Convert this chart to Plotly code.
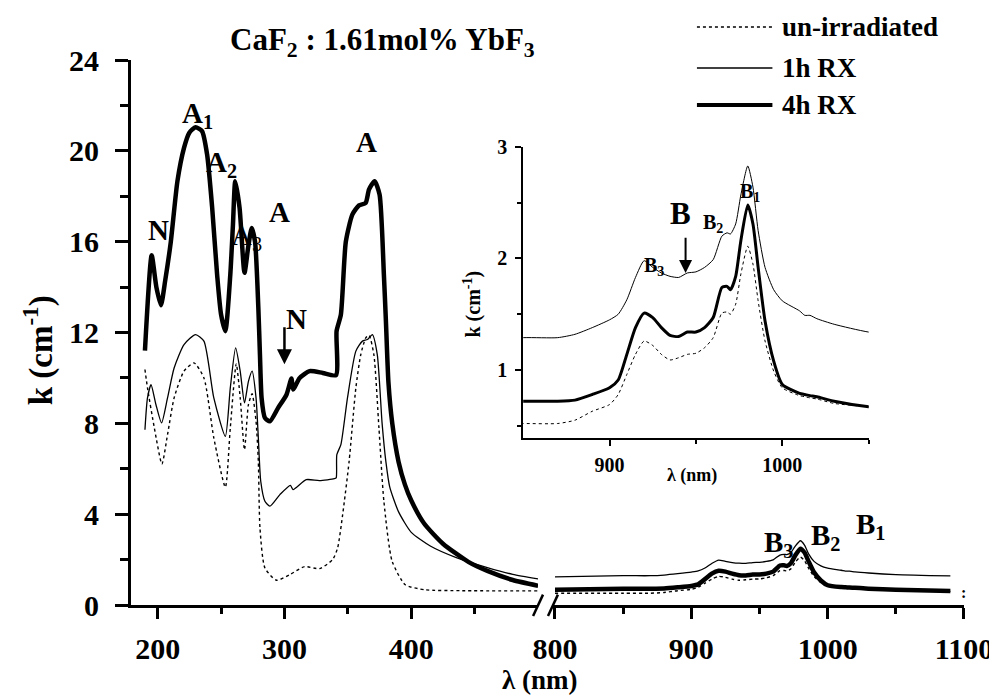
import plotly.graph_objects as go

# ---------------- data ----------------
# UV / visible part (left segment of the broken axis)
uv_wl_un = [190, 192, 197.4, 203.4, 207.8, 213, 220.8, 228.7, 236.5, 244.3, 253.4, 257.3, 262, 265.1,
            268.5, 271.6, 274.5, 277.6, 279.4, 280.7, 284.6, 293.8, 304.2, 315.9, 327.6, 338, 341.9,
            345.9, 351, 356.3, 360.2, 364.1, 366.7, 370.5, 374.5, 378.4, 384.9, 395.3, 410.9, 440, 500]
uv_k_un = [10.37, 9.56, 7.8, 6.21, 7.5, 9.12, 10.3, 10.66, 10.0, 7.36, 5.19, 7.8, 10.62, 9.12,
           6.84, 8.82, 9.3, 8.09, 6.33, 3.39, 1.63, 1.09, 1.34, 1.69, 1.6, 2.0, 2.51,
           3.98, 6.33, 9.56, 11.03, 11.76, 11.88, 11.03, 7.8, 4.57, 1.93, 0.89, 0.67, 0.63, 0.62]

uv_wl_1h = [190, 192, 194.8, 198.7, 203.1, 207.8, 213, 220.8, 229.9, 236.5, 244.3, 253.4, 257.3, 261.5,
            265.1, 268.5, 271.6, 274.5, 277.6, 279.4, 281.3, 284.6, 288.5, 296.4, 304.7, 306.8, 317.2,
            327.6, 339.3, 340.8, 341.3, 344.5, 349.7, 356.3, 361.5, 365.4, 369.3, 373.2, 377, 380,
            383, 390, 400, 415, 435, 460, 480, 500]
uv_k_1h = [7.72, 9.12, 9.7, 8.82, 8.02, 9.12, 10.44, 11.47, 11.91, 11.62, 9.12, 7.43, 9.56, 11.32,
           10.3, 8.9, 9.85, 10.3, 9.12, 7.36, 5.45, 4.57, 4.35, 4.86, 5.27, 5.08, 5.52,
           5.48, 5.56, 5.6, 6.62, 7.06, 9.12, 11.18, 11.62, 11.69, 11.91, 11.03, 8.0, 6.3,
           5.2, 4.1, 3.2, 2.6, 2.1, 1.65, 1.35, 1.15]

uv_wl_4h = [190, 195.3, 199, 202.6, 206, 210.4, 215.6, 220.8, 225, 229.9, 235, 239, 243, 246.9, 250,
            253.4, 257.3, 259.4, 261.2, 264.6, 268.5, 271.5, 274.2, 276.8, 279.4, 280.7, 282, 284.6,
            288.5, 295, 301.6, 305.5, 306.8, 312, 319.8, 330.2, 340.6, 341.1, 344.5, 348.4, 353.6,
            358.8, 364, 366.7, 371.1, 375, 378.4, 380, 382, 385, 390, 395, 400, 410, 425, 445, 460,
            480, 500]
uv_k_4h = [11.2, 15.4, 14.0, 13.2, 14.3, 16.0, 18.66, 20.13, 20.8, 21.04, 20.87, 19.84, 17.5, 14.55, 12.8,
           12.06, 14.55, 16.75, 18.66, 17.49, 14.63, 15.8, 16.6, 16.0, 13.1, 11.0, 9.1, 8.24,
           8.09, 8.68, 9.26, 9.97, 9.49, 10.0, 10.3, 10.22, 10.12, 12.06, 12.79, 16.0, 17.2,
           17.6, 17.7, 18.3, 18.66, 18.08, 14.55, 12.5, 9.8, 8.0, 6.3, 5.3, 4.6, 3.6, 2.7, 1.9, 1.5,
           1.1, 0.85]

# Near-infrared part (right segment and inset)
nir_wl = [800, 850, 870, 880, 890, 900, 905, 910, 915, 920, 925, 930, 935, 940, 945, 950, 955, 960,
          965, 968, 970, 973, 976, 980, 983, 986, 990, 995, 1000, 1010, 1013, 1016, 1020, 1030, 1050, 1090]
nir_k_un = [0.52, 0.52, 0.52, 0.55, 0.63, 0.69, 0.78, 0.96, 1.14, 1.26, 1.22, 1.14, 1.09, 1.11, 1.14, 1.15,
            1.20, 1.29, 1.51, 1.52, 1.50, 1.59, 1.86, 2.11, 1.95, 1.62, 1.26, 0.99, 0.84, 0.77, 0.76,
            0.75, 0.74, 0.70, 0.67, 0.60]
nir_k_1h = [1.24, 1.29, 1.29, 1.32, 1.38, 1.45, 1.50, 1.63, 1.83, 1.98, 1.92, 1.87, 1.84, 1.83, 1.87, 1.88,
            1.92, 1.99, 2.20, 2.23, 2.22, 2.31, 2.57, 2.83, 2.64, 2.25, 1.92, 1.72, 1.62, 1.53, 1.49,
            1.49, 1.46, 1.41, 1.34, 1.28]
nir_k_4h = [0.67, 0.72, 0.72, 0.73, 0.78, 0.84, 0.91, 1.14, 1.38, 1.51, 1.47, 1.38, 1.31, 1.30, 1.34, 1.34,
            1.38, 1.47, 1.74, 1.75, 1.72, 1.84, 2.16, 2.48, 2.31, 1.92, 1.44, 1.08, 0.87, 0.79, 0.78,
            0.77, 0.76, 0.72, 0.67, 0.62]

series_names = ["un-irradiated", "1h RX", "4h RX"]

# tick values / labels
uv_ticks = [200, 300, 400]
uv_minor = [250, 350, 450]
nir_ticks = [800, 900, 1000, 1100]
nir_minor = [850, 950, 1050]
k_ticks = [0, 4, 8, 12, 16, 20, 24]
k_minor = [2, 6, 10, 14, 18, 22]
inset_x_ticks = [900, 1000]
inset_x_minor = [950, 1050]
inset_k_ticks = [1, 2, 3]
inset_k_minor = [0.5, 1.5, 2.5]

# ---------------- styling ----------------
FONT = "Liberation Serif"
styles_main = [dict(color="black", width=1.4, dash="dot"),
               dict(color="black", width=1.3),
               dict(color="black", width=4.5)]
styles_inset = [dict(color="black", width=1.0, dash="dot"),
                dict(color="black", width=1.0),
                dict(color="black", width=3.0)]

fig = go.Figure()
uv_sets = [(uv_wl_un, uv_k_un), (uv_wl_1h, uv_k_1h), (uv_wl_4h, uv_k_4h)]
nir_sets = [nir_k_un, nir_k_1h, nir_k_4h]

for (wl, k), st, name in zip(uv_sets, styles_main, series_names):
    fig.add_trace(go.Scatter(x=wl, y=k, mode="lines", line=dict(shape="spline", smoothing=0.6, **st),
                             name=name, xaxis="x", yaxis="y", showlegend=False))
for k, st, name in zip(nir_sets, styles_main, series_names):
    fig.add_trace(go.Scatter(x=nir_wl, y=k, mode="lines", line=dict(shape="spline", smoothing=0.6, **st),
                             name=name, xaxis="x2", yaxis="y", showlegend=False))
for k, st, name in zip(nir_sets, styles_inset, series_names):
    fig.add_trace(go.Scatter(x=nir_wl, y=k, mode="lines", line=dict(shape="spline", smoothing=0.6, **st),
                             name=name, xaxis="x3", yaxis="y3", showlegend=False))

tick_font = dict(family=FONT, size=30, color="black", weight="bold")
inset_tick_font = dict(family=FONT, size=20, color="black", weight="bold")

common_main = dict(showline=True, linecolor="black", linewidth=3, ticks="outside", tickwidth=2.5,
                   tickcolor="black", showgrid=False, zeroline=False, tickfont=tick_font,
                   tickmode="array")

fig.update_layout(
    width=997, height=697,
    margin=dict(l=123, r=35, t=52, b=100),
    paper_bgcolor="white", plot_bgcolor="white",
    showlegend=False,
    xaxis=dict(domain=[0, 0.4887], range=[179, 500], anchor="y", tickvals=uv_ticks, ticklen=11,
               ticklabelstandoff=4,
               minor=dict(tickvals=uv_minor, ticks="outside", ticklen=6, tickwidth=2.5, tickcolor="black"),
               **common_main),
    xaxis2=dict(domain=[0.5054, 1], range=[797.8, 1100], anchor="y", tickvals=nir_ticks, ticklen=11,
                ticklabelstandoff=4,
                minor=dict(tickvals=nir_minor, ticks="outside", ticklen=6, tickwidth=2.5, tickcolor="black"),
                **common_main),
    yaxis=dict(domain=[0, 1], range=[0, 24], anchor="x", tickvals=k_ticks, ticklen=13,
               ticklabelstandoff=10,
               minor=dict(tickvals=k_minor, ticks="outside", ticklen=8, tickwidth=2.5, tickcolor="black"),
               **common_main),
    xaxis3=dict(domain=[0.4708, 0.8856], range=[850, 1050], anchor="y3", showline=True, linecolor="black",
                linewidth=2, ticks="outside", ticklen=6, tickwidth=2, tickcolor="black",
                tickmode="array", tickvals=inset_x_ticks, tickfont=inset_tick_font, ticklabelstandoff=2,
                minor=dict(tickvals=inset_x_minor, ticks="outside", ticklen=4, tickwidth=2, tickcolor="black"),
                showgrid=False, zeroline=False),
    yaxis3=dict(domain=[0.3064, 0.8404], range=[0.39, 3.0], anchor="x3", showline=True, linecolor="black",
                linewidth=2, ticks="outside", ticklen=6, tickwidth=2, tickcolor="black",
                tickmode="array", tickvals=inset_k_ticks, tickfont=inset_tick_font, ticklabelstandoff=4,
                minor=dict(tickvals=inset_k_minor, ticks="outside", ticklen=4, tickwidth=2, tickcolor="black"),
                showgrid=False, zeroline=False),
)

def txt(text, x, y, size, xref="paper", yref="paper", xanchor="center", yanchor="middle", angle=0):
    fig.add_annotation(text=text, x=x, y=y, xref=xref, yref=yref, showarrow=False,
                       xanchor=xanchor, yanchor=yanchor, textangle=angle,
                       font=dict(family=FONT, size=size, color="black"))

# title and axis titles
txt("<b>CaF<sub>2</sub> : 1.61mol% YbF<sub>3</sub></b>", 0.3016, 1.033, 31)
txt("<b>λ (nm)</b>", 0.491, -0.168, 27, yanchor="bottom")
txt("<b>k (cm<sup>-1</sup>)</b>", -0.11, 0.468, 33, angle=-90)
txt("<b>λ (nm)</b>", 0.6734, 0.2367, 18)
txt("<b>k (cm<sup>-1</sup>)</b>", 0.41, 0.5523, 20, angle=-90)

# manual legend (long line samples as in the original)
legend_rows = [(1.0606, styles_main[0]), (0.9853, styles_main[1]), (0.9174, dict(color="black", width=4))]
for (ly, st), name in zip(legend_rows, series_names):
    fig.add_shape(type="line", xref="paper", yref="paper", x0=0.6794, x1=0.7700, y0=ly, y1=ly,
                  line=st)
    txt("<b>" + name + "</b>", 0.7795, ly, 27, xanchor="left")

# peak labels, main UV segment
txt("<b>N</b>", 201, 16.5, 29, "x", "y")
txt("<b>A<sub>1</sub></b>", 218, 21.6, 29, "x", "y", xanchor="left")
txt("<b>A<sub>2</sub></b>", 236.5, 19.4, 29, "x", "y", xanchor="left")
txt("A<sub>3</sub>", 256, 16.2, 29, "x", "y", xanchor="left")
txt("<b>A</b>", 296, 17.3, 29, "x", "y")
txt("<b>A</b>", 364.7, 20.4, 29, "x", "y")
txt("<b>N</b>", 309.4, 12.6, 29, "x", "y")
fig.add_annotation(x=300, y=10.6, ax=300, ay=12.3, xref="x", yref="y", axref="x", ayref="y",
                   showarrow=True, arrowhead=2, arrowsize=1.2, arrowwidth=2.5, arrowcolor="black", text="")

# peak labels, main NIR segment
txt("<b>B<sub>3</sub></b>", 951.8, 2.7, 29, "x2", "y", xanchor="left")
txt("<b>B<sub>2</sub></b>", 986, 3.0, 29, "x2", "y", xanchor="left")
txt("<b>B<sub>1</sub></b>", 1019.5, 3.5, 29, "x2", "y", xanchor="left")
txt("<b>:</b>", 1100, 0.55, 16, "x2", "y")

# inset labels
txt("<b>B<sub>3</sub></b>", 918.6, 1.93, 20, "x3", "y3", xanchor="left")
txt("<b>B</b>", 941.2, 2.40, 31, "x3", "y3")
txt("<b>B<sub>2</sub></b>", 952.9, 2.31, 20, "x3", "y3", xanchor="left")
txt("<b>B<sub>1</sub></b>", 974.5, 2.59, 20, "x3", "y3", xanchor="left")
fig.add_annotation(x=944, y=1.87, ax=944, ay=2.2, xref="x3", yref="y3", axref="x3", ayref="y3",
                   showarrow=True, arrowhead=2, arrowsize=1.3, arrowwidth=2, arrowcolor="black", text="")

# axis-break marks
for x0, x1 in [(0.4827, 0.4946), (0.5006, 0.5125)]:
    fig.add_shape(type="line", xref="paper", yref="paper", x0=x0, x1=x1, y0=-0.0202, y1=0.019,
                  line=dict(color="black", width=2.5))

fig.write_html("out.html")
